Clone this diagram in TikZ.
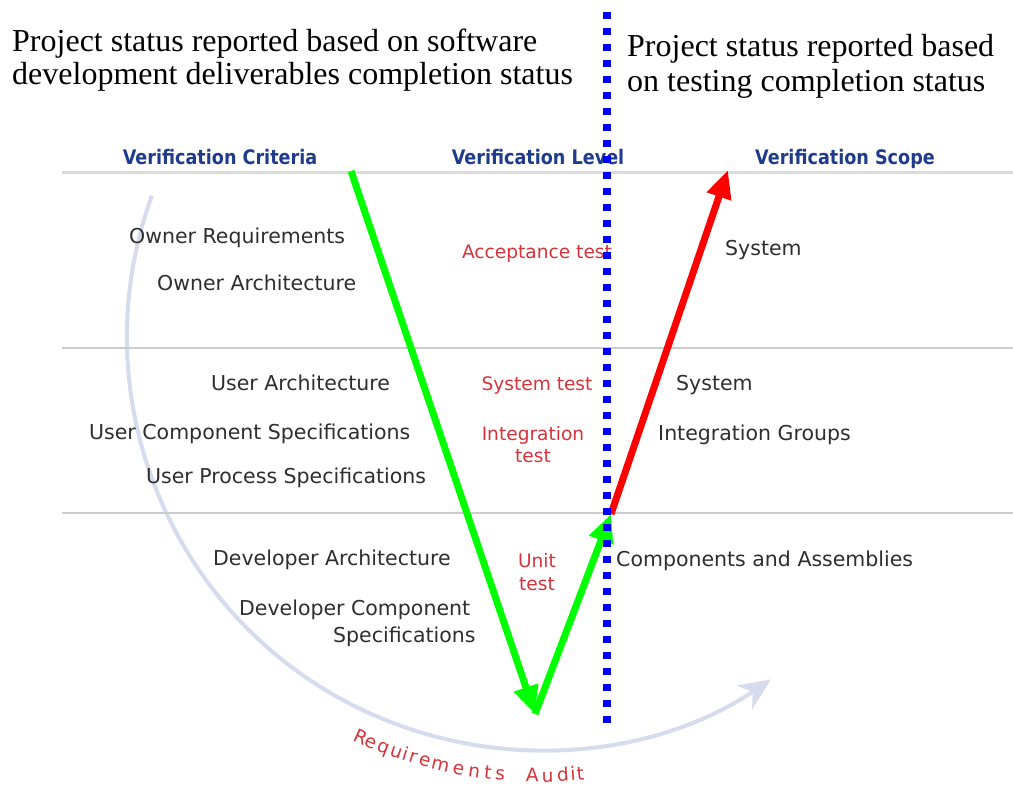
\documentclass[tikz,border=0pt]{standalone}
\usepackage{fontspec}
\setmainfont{Liberation Serif}
\newfontfamily\vsans{DejaVu Sans}
\newfontfamily\vhead{DejaVu Sans}[FakeStretch=0.88]
\usetikzlibrary{arrows.meta}

\definecolor{vblue}{HTML}{1F3C8C}
\definecolor{vred}{HTML}{D8333A}
\definecolor{vgray}{HTML}{2E2E2E}
\definecolor{vrule}{HTML}{CCCCCC}
\definecolor{vaudit}{HTML}{D6DCEE}
\definecolor{vgreen}{HTML}{00FF00}
\definecolor{vredarrow}{HTML}{FF0000}
\definecolor{vdots}{HTML}{0000FF}

\tikzset{
  header/.style={font=\vhead\bfseries\fontsize{20}{22}\selectfont, text=vblue, inner sep=0pt, anchor=mid},
  crit/.style={font=\vsans\fontsize{20.5}{24}\selectfont, text=vgray, inner sep=0pt, anchor=mid west},
  level/.style={font=\vsans\fontsize{18.6}{22}\selectfont, text=vred, inner sep=0pt, anchor=mid},
  note/.style={font=\fontsize{32}{36}\selectfont, text=black, inner sep=0pt, anchor=mid west},
  auditch/.style={font=\vsans\fontsize{18.5}{22}\selectfont, text=vred, inner sep=0pt, anchor=base},
  rowrule/.style={vrule, line width=2.5pt},
  flow/.style={line width=7pt, -{Triangle[length=28pt,width=24pt]}},
  auditarc/.style={vaudit, line width=4pt, -{Stealth[length=32pt,width=28pt,inset=10pt]}},
  divider/.style={vdots, line width=8pt, dash pattern=on 7.5pt off 8.5pt},
}

\begin{document}
\begin{tikzpicture}[x=1pt,y=-1pt]
\fill[white] (0,0) rectangle (1013,788);
\useasboundingbox (0,0) rectangle (1013,788);

% requirements audit loop
\coordinate (C) at (540,337);
\draw[auditarc] ([shift={(160:413pt)}]C) arc[start angle=160, end angle=304, radius=413pt];
\foreach \ch/\ang [count=\i] in {R/245.9, e/247.4, q/249.1, u/250.9, i/252.1, r/253.2, e/254.8, m/256.9, e/259.3, n/261.4, t/263.2, s/264.8, A/269.0, u/271.0, d/273.0, i/274.3, t/275.3}
  \node[auditch, rotate=\ang-270] (audit\i) at ([shift={(\ang:445pt)}]C) {\ch};

% row separators
\draw[vrule!70, line width=3pt] (62,172) -- (1013,172);
\draw[rowrule] (62,348) -- (1013,348);
\draw[rowrule] (62,513) -- (1013,513);

% column headers
\node[header] (hcrit) at (220,162) {Verification Criteria};
\node[header] (hlevel) at (538,162) {Verification Level};
\node[header] (hscope) at (845,162) {Verification Scope};

% verification criteria
\node[crit] (c1) at (129,241) {Owner Requirements};
\node[crit] (c2) at (157,288) {Owner Architecture};
\node[crit] (c3) at (211,388) {User Architecture};
\node[crit] (c4) at (89,437) {User Component Specifications};
\node[crit] (c5) at (146,481) {User Process Specifications};
\node[crit] (c6) at (213,563) {Developer Architecture};
\node[crit] (c7) at (239,613) {Developer Component};
\node[crit] (c8) at (333,640) {Specifications};

% verification levels
\node[level] (l1) at (537,256) {Acceptance test};
\node[level] (l2) at (537,388) {System test};
\node[level] (l3) at (533,438) {Integration};
\node[level] (l3b) at (533,460) {test};
\node[level] (l4) at (537,565) {Unit};
\node[level] (l4b) at (537,588) {test};

% verification scope
\node[crit] (s1) at (725,253) {System};
\node[crit] (s2) at (676,388) {System};
\node[crit] (s3) at (658,438) {Integration Groups};
\node[crit] (s4) at (616,564) {Components and Assemblies};

% status notes
\node[note] (n1) at (12,49) {Project status reported based on software};
\node[note] (n2) at (12,82) {development deliverables completion status};
\node[note] (n3) at (627,54) {Project status reported based};
\node[note] (n4) at (627,89) {on testing completion status};

% V path
\coordinate (G) at (351,171);
\coordinate (V) at (535,714);
\coordinate (J) at (611,514);
\coordinate (T) at (728,170);
\draw[flow, vgreen] (G) -- (V);
\draw[flow, vgreen] (V) -- (J);
\draw[flow, vredarrow] (J) -- (T);

% reporting boundary
\coordinate (dtop) at (607,11.5);
\coordinate (dbot) at (607,723);
\draw[divider] (dtop) -- (dbot);
\end{tikzpicture}
\end{document}
